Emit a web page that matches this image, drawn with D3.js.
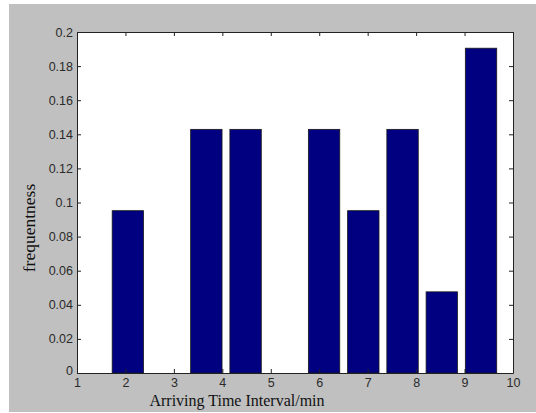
<!DOCTYPE html>
<html><head><meta charset="utf-8">
<script src="https://cdn.jsdelivr.net/npm/d3@7"></script>
<style>html,body{margin:0;padding:0;background:#fff;}svg{display:block;}</style>
</head><body>
<script>
const binCenters = [2.05, 2.86, 3.67, 4.48, 5.29, 6.10, 6.91, 7.72, 8.53, 9.34];
const frequencies = [0.0952, 0, 0.1429, 0.1429, 0, 0.1429, 0.0952, 0.1429, 0.0476, 0.1905];
const xTicks = [1, 2, 3, 4, 5, 6, 7, 8, 9, 10];
const yTicks = [0, 0.02, 0.04, 0.06, 0.08, 0.1, 0.12, 0.14, 0.16, 0.18, 0.2];
const xLabel = "Arriving Time Interval/min";
const yLabel = "frequentness";

const W = 536, H = 413;
const L = 77, R = 513, T = 32, B = 373;
const svg = d3.select("body").append("svg").attr("width", W).attr("height", H);
svg.append("rect").attr("x", 9).attr("y", 4).attr("width", W - 9).attr("height", 408).attr("fill", "#c0c0c0");
svg.append("rect").attr("x", L).attr("y", T).attr("width", R - L).attr("height", B - T).attr("fill", "#fff");

const x = d3.scaleLinear().domain([1, 10]).range([L, R]);
const y = d3.scaleLinear().domain([0, 0.2]).range([B, T]);
const binW = 0.81 * 0.8;

svg.selectAll("rect.bar").data(binCenters.map((c, i) => ({c, v: frequencies[i]})).filter(d => d.v > 0))
  .enter().append("rect").attr("class", "bar")
  .attr("x", d => x(d.c - binW / 2)).attr("width", d => x(d.c + binW / 2) - x(d.c - binW / 2))
  .attr("y", d => y(d.v)).attr("height", d => y(0) - y(d.v))
  .attr("fill", "#000080").attr("stroke", "#1a1a1a").attr("stroke-width", 0.8);

const tl = 4;
const axB = svg.append("g").attr("transform", `translate(0,${B})`)
  .call(d3.axisBottom(x).tickValues(xTicks).tickSizeInner(-tl).tickSizeOuter(0).tickPadding(5).tickFormat(d3.format("d")));
const axT = svg.append("g").attr("transform", `translate(0,${T})`)
  .call(d3.axisTop(x).tickValues(xTicks).tickSizeInner(-tl).tickSizeOuter(0).tickFormat(""));
const axL = svg.append("g").attr("transform", `translate(${L},0)`)
  .call(d3.axisLeft(y).tickValues(yTicks).tickSizeInner(-tl).tickSizeOuter(0).tickPadding(4).tickFormat(d => d === 0 ? "0" : d3.format("")(+d.toFixed(2))));
const axR = svg.append("g").attr("transform", `translate(${R},0)`)
  .call(d3.axisRight(y).tickValues(yTicks).tickSizeInner(-tl).tickSizeOuter(0).tickFormat(""));
[axB, axT, axL, axR].forEach(g => {
  g.select(".domain").attr("stroke", "#222").attr("stroke-width", 1);
  g.selectAll(".tick line").attr("stroke", "#222");
  g.selectAll("text").attr("font-family", "Liberation Sans, Arial, sans-serif").attr("font-size", 12.5).attr("fill", "#2a2a2a");
});
axL.selectAll(".tick").filter(d => d === 0).select("text").attr("dy", "0.1em");

svg.append("text").attr("x", 237).attr("y", 406).attr("text-anchor", "middle")
  .attr("font-family", "Liberation Serif, Times New Roman, serif").attr("font-size", 16).attr("fill", "#111").text(xLabel);
svg.append("text").attr("transform", "translate(35,228) rotate(-90)").attr("text-anchor", "middle")
  .attr("font-family", "Liberation Serif, Times New Roman, serif").attr("font-size", 17.5).attr("fill", "#111").text(yLabel);
</script>
</body></html>
